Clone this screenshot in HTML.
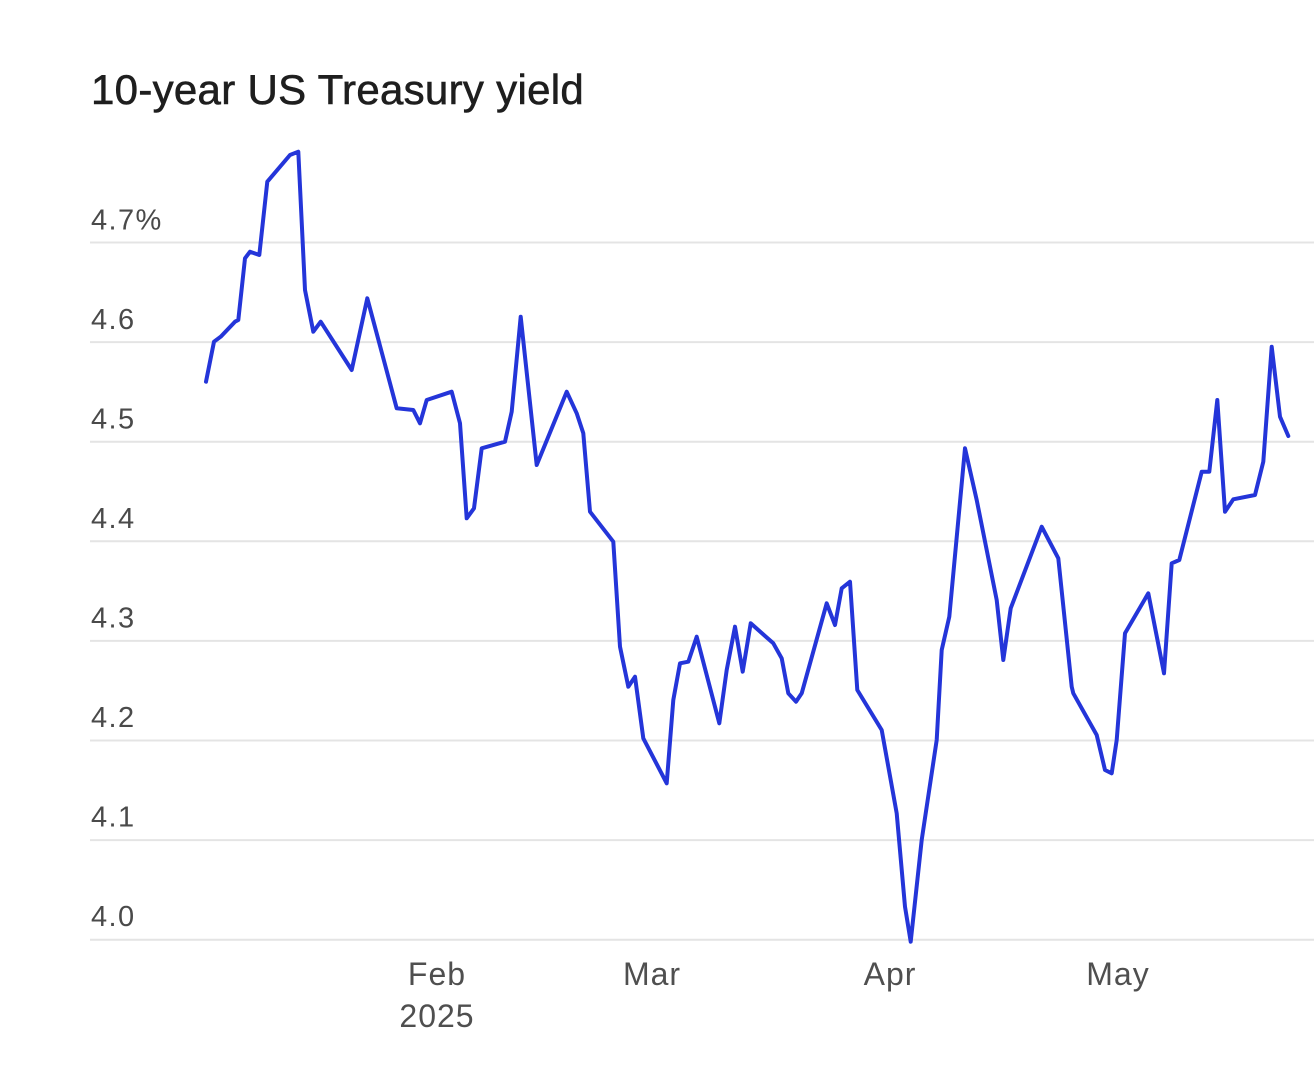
<!DOCTYPE html>
<html>
<head>
<meta charset="utf-8">
<style>
  html, body { margin:0; padding:0; background:#ffffff; }
  body { width:1314px; height:1070px; overflow:hidden; }
  svg { display:block; }
  .title { font-family:"Liberation Sans", sans-serif; font-size:42px; fill:#1e1e1e; stroke:#1e1e1e; stroke-width:0.6px; letter-spacing:0.3px; }
  .tick { font-family:"Liberation Sans", sans-serif; font-size:29px; fill:#4a4a4a; letter-spacing:1.4px; }
  .month { font-family:"Liberation Sans", sans-serif; font-size:32px; fill:#4f4f4f; letter-spacing:1px; }
</style>
</head>
<body>
<svg width="1314" height="1070" viewBox="0 0 1314 1070" xmlns="http://www.w3.org/2000/svg">
  <rect width="1314" height="1070" fill="#ffffff"/>
  <text class="title" x="91" y="104">10-year US Treasury yield</text>

  <g stroke="#e4e4e4" stroke-width="2">
    <line x1="90" y1="242.5" x2="1314" y2="242.5"/>
    <line x1="90" y1="342.1" x2="1314" y2="342.1"/>
    <line x1="90" y1="441.7" x2="1314" y2="441.7"/>
    <line x1="90" y1="541.3" x2="1314" y2="541.3"/>
    <line x1="90" y1="640.9" x2="1314" y2="640.9"/>
    <line x1="90" y1="740.5" x2="1314" y2="740.5"/>
    <line x1="90" y1="840.1" x2="1314" y2="840.1"/>
    <line x1="90" y1="939.7" x2="1314" y2="939.7"/>
  </g>

  <g class="tick">
    <text x="91" y="229.5">4.7%</text>
    <text x="91" y="329">4.6</text>
    <text x="91" y="428.5">4.5</text>
    <text x="91" y="528">4.4</text>
    <text x="91" y="627.5">4.3</text>
    <text x="91" y="727">4.2</text>
    <text x="91" y="826.5">4.1</text>
    <text x="91" y="926">4.0</text>
  </g>

  <g class="month" text-anchor="middle">
    <text x="437" y="985">Feb</text>
    <text x="437" y="1027">2025</text>
    <text x="652" y="985">Mar</text>
    <text x="890" y="985">Apr</text>
    <text x="1118" y="985">May</text>
  </g>

  <polyline fill="none" stroke="#2435d9" stroke-width="4" stroke-linejoin="round" stroke-linecap="round"
    points="206,381.7 214,341.7 220.7,336.7 235,321.7 238.3,320 245,258.3 250,251.7 259.3,255 267.3,181.7 290,155 298.3,151.7 305,290 313.3,331.7 320.7,321.7 351.7,370 367.3,298.3 396.7,408.3 413.3,410 420,423.3 426.7,400 451.7,391.7 460,423.3 466.7,518.3 474,508.3 481.7,448.3 505,441.7 511.7,411.7 520.7,316.7 536.7,465 566.7,391.7 576.7,413.3 583.3,433.3 590,511.7 613.3,541.7 620,646.7 628.3,686.7 635,676.7 643.3,738.3 666.7,783.3 673.3,700 680,663.3 688.3,661.7 696.7,636.7 719.3,723.3 726.7,670 735,626.7 742.7,671.7 750.7,623.3 773.3,643.3 781.7,658.3 788.3,693.3 796,701.7 801.7,693.3 826.7,603.3 835,625 841.7,588.3 850,581.7 857.3,690 881.7,730 896.7,813.3 905,906.7 910.7,941.7 921.7,840 936.7,740 941.7,650 949.3,616.7 965,448.3 976.7,500 996.7,600 1003.3,660 1010.7,608.3 1041.7,526.7 1058.3,558.3 1071.7,686.7 1073.3,693.3 1096.7,735 1105,770 1111.7,773.3 1116.7,740 1125,633.3 1148.3,593.3 1164,673.3 1171.7,563.3 1179.3,560 1201.7,471.7 1209.3,471.7 1217.3,400 1225,511.7 1233.3,499.3 1255,495 1263.3,461.7 1271.7,346.7 1280,416.7 1288.3,436"/>
</svg>
</body>
</html>
